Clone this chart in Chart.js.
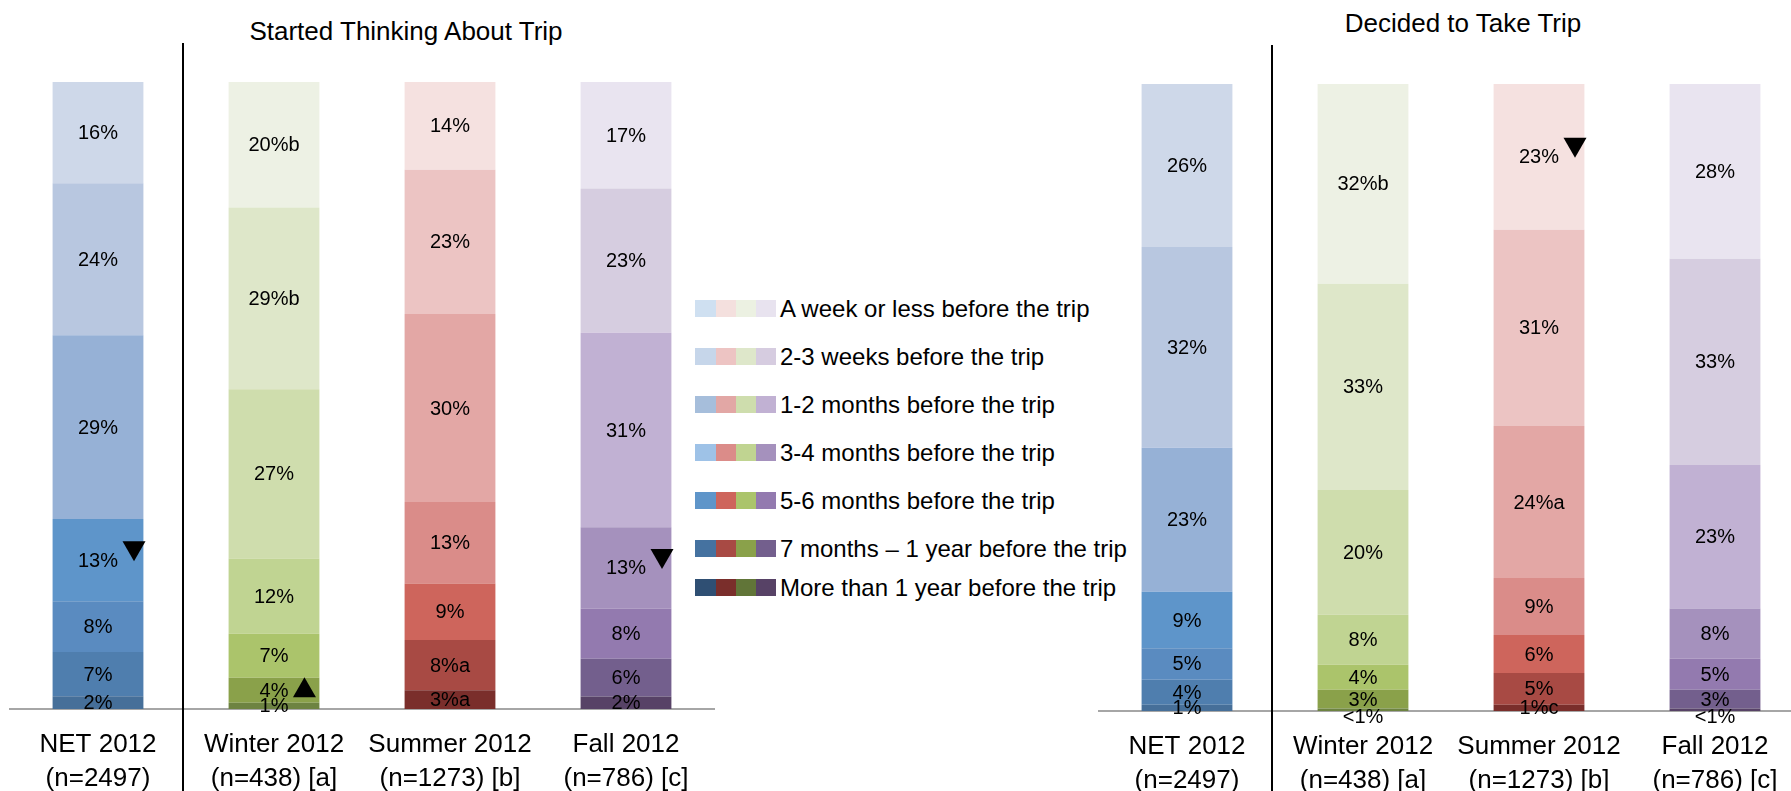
<!DOCTYPE html>
<html>
<head>
<meta charset="utf-8">
<script src="https://cdn.jsdelivr.net/npm/chart.js@4.4.1/dist/chart.umd.min.js"></script>
<style>
  body { margin: 0; width: 1791px; height: 791px; overflow: hidden; position: relative; background: #fff;
         font-family: "Liberation Sans", Arial, sans-serif; color: #000; }
  canvas { position: absolute; }
  #thinkChart { left: 0; top: 0; }
  #decideChart { left: 1089px; top: 2px; }
  .title { position: absolute; width: 420px; text-align: center; font-size: 26px; line-height: 26px; white-space: nowrap; }
  .row { position: absolute; left: 695px; height: 17px; display: flex; align-items: center; white-space: nowrap; }
  .row span.sw { display: inline-block; width: 20px; height: 17px; }
  .row span.sw:first-child { width: 21px; }
  .row span.txt { margin-left: 4px; font-size: 24px; line-height: 17px; }
</style>
</head>
<body>
<div class="title" style="left:196px; top:18px">Started Thinking About Trip</div>
<div class="title" style="left:1253px; top:10px">Decided to Take Trip</div>
<div id="legend"></div>
<canvas id="thinkChart" width="720" height="791"></canvas>
<canvas id="decideChart" width="720" height="791"></canvas>
<script>
const categories = [['NET 2012', '(n=2497)'], ['Winter 2012', '(n=438) [a]'], ['Summer 2012', '(n=1273) [b]'], ['Fall 2012', '(n=786) [c]']];
const timing = ['A week or less before the trip', '2-3 weeks before the trip', '1-2 months before the trip',
  '3-4 months before the trip', '5-6 months before the trip', '7 months \u2013 1 year before the trip',
  'More than 1 year before the trip'];

// started thinking about the trip, % per timing (top of the bar first)
const thinkNet = [16, 24, 29, 13, 8, 7, 2];
const thinkWinter = [20, 29, 27, 12, 7, 4, 1];
const thinkSummer = [14, 23, 30, 13, 9, 8, 3];
const thinkFall = [17, 23, 31, 13, 8, 6, 2];
const thinkWinterSig = ['b', 'b', '', '', '', '', ''];
const thinkSummerSig = ['', '', '', '', '', 'a', 'a'];

// decided to take the trip (0.4 = "<1%")
const decideNet = [26, 32, 23, 9, 5, 4, 1];
const decideWinter = [32, 33, 20, 8, 4, 3, 0.4];
const decideSummer = [23, 31, 24, 9, 6, 5, 1];
const decideFall = [28, 33, 23, 8, 5, 3, 0.4];
const decideWinterSig = ['b', '', '', '', '', '', ''];
const decideSummerSig = ['', '', 'a', '', '', '', 'c'];

const noSig = ['', '', '', '', '', '', ''];

// significant change arrows: bar index, timing index, direction
const thinkArrows = [{ bar: 0, level: 3, dir: 'down' }, { bar: 1, level: 5, dir: 'up' }, { bar: 3, level: 3, dir: 'down' }];
const decideArrows = [{ bar: 2, level: 0, dir: 'down' }];

// one shade ramp per bar: NET blue, winter green, summer red, fall purple
const barShades = [
  ['#CED8E9', '#B8C7E0', '#96B1D6', '#5E95CA', '#5A8BC0', '#4F7EAE', '#466F99'],
  ['#EDF1E4', '#DEE7C9', '#CFDDAD', '#C0D492', '#ABC46B', '#8AA14A', '#6D8341'],
  ['#F5E1E0', '#ECC4C3', '#E3A7A5', '#DA8C89', '#CE655C', '#A84A44', '#7A2E2B'],
  ['#E9E4F0', '#D6CDE0', '#C1B1D3', '#A591BD', '#937AAF', '#735F8D', '#574266']
];
const legendShades = [
  ['#CFE0F1', '#F4E0DE', '#ECF1E2', '#E8E3EF'],
  ['#C6D6EA', '#EDC4C3', '#DEE7CA', '#D6CCE0'],
  ['#A6BEDB', '#E2A7A5', '#CEDDAD', '#C1B1D3'],
  ['#9EC2E7', '#DB8C89', '#C0D491', '#A591BD'],
  ['#5F95C9', '#CE655C', '#ABC46B', '#937AAF'],
  ['#4572A0', '#A84A44', '#8AA14A', '#735F8D'],
  ['#2F4F73', '#7A2E2B', '#617538', '#574266']
];

const FONT = '"Liberation Sans", Arial, sans-serif';

// legend in the middle
const legendRowY = [308, 356, 404, 452, 500, 548, 587];
const legend = document.getElementById('legend');
timing.forEach((t, i) => {
  const row = document.createElement('div');
  row.className = 'row';
  row.style.top = (legendRowY[i] - 8.5) + 'px';
  legendShades[i].forEach(c => {
    const s = document.createElement('span');
    s.className = 'sw';
    s.style.background = c;
    row.appendChild(s);
  });
  const txt = document.createElement('span');
  txt.className = 'txt';
  txt.textContent = t;
  row.appendChild(txt);
  legend.appendChild(row);
});

const decor = {
  id: 'decor',
  afterDatasetsDraw(chart, args, opts) {
    const ctx = chart.ctx;
    ctx.save();
    ctx.font = '20px ' + FONT;
    ctx.fillStyle = '#000';
    ctx.textAlign = 'center';
    ctx.textBaseline = 'middle';
    chart.data.datasets.forEach((ds, di) => {
      chart.getDatasetMeta(di).data.forEach((bar, bi) => {
        let y = (bar.y + bar.base) / 2 + 1;
        if (ds.raw[bi] < 1) y += 7;
        ctx.fillText(ds.valueLabels[bi], bar.x, y);
      });
    });
    opts.arrows.forEach(a => {
      const di = chart.data.datasets.findIndex(d => d.level === a.level);
      const ds = chart.data.datasets[di];
      const bar = chart.getDatasetMeta(di).data[a.bar];
      const w = ctx.measureText(ds.valueLabels[a.bar]).width;
      const cx = bar.x + w / 2 + 16;
      const cy = (bar.y + bar.base) / 2 + (a.dir === 'down' ? -9 : -3);
      ctx.beginPath();
      if (a.dir === 'down') {
        ctx.moveTo(cx - 11.5, cy - 10); ctx.lineTo(cx + 11.5, cy - 10); ctx.lineTo(cx, cy + 10);
      } else {
        ctx.moveTo(cx - 11.5, cy + 10); ctx.lineTo(cx + 11.5, cy + 10); ctx.lineTo(cx, cy - 10);
      }
      ctx.closePath();
      ctx.fill();
    });
    // divider between NET and the seasons
    const x = Math.round(chart.scales.x.getPixelForValue(0.485));
    ctx.strokeStyle = '#000';
    ctx.lineWidth = 2;
    ctx.beginPath();
    ctx.moveTo(x, chart.chartArea.top - 39);
    ctx.lineTo(x, chart.height);
    ctx.stroke();
    ctx.restore();
  }
};

function buildPanel(id, series, sigs, arrows) {
  const totals = series.map(s => s.reduce((a, b) => a + b, 0));
  const datasets = [];
  for (let l = timing.length - 1; l >= 0; l--) {
    const raw = series.map(s => s[l]);
    datasets.push({
      label: timing[l],
      level: l,
      raw: raw,
      valueLabels: raw.map((v, i) => (v < 1 ? '<1' : v) + '%' + sigs[i][l]),
      data: raw.map((v, i) => v / totals[i] * 100),
      backgroundColor: barShades.map(r => r[l]),
      borderWidth: 0,
      barPercentage: 1,
      categoryPercentage: 0.516
    });
  }
  return new Chart(document.getElementById(id), {
    type: 'bar',
    data: { labels: categories, datasets: datasets },
    options: {
      responsive: false,
      animation: false,
      layout: { padding: { left: 10, right: 6, top: 82, bottom: 0 } },
      plugins: {
        legend: { display: false },
        tooltip: { enabled: false },
        decor: { arrows: arrows }
      },
      scales: {
        x: {
          stacked: true,
          grid: { display: false, drawTicks: false },
          border: { display: true, color: '#a6a6a6', width: 2 },
          ticks: { color: '#000', padding: 19, maxRotation: 0, autoSkip: false,
                   font: { family: FONT, size: 26, lineHeight: 1.31 } },
          afterFit(scale) { scale.height = 82; }
        },
        y: { stacked: true, display: false, min: 0, max: 100 }
      }
    },
    plugins: [decor]
  });
}

buildPanel('thinkChart', [thinkNet, thinkWinter, thinkSummer, thinkFall],
  [noSig, thinkWinterSig, thinkSummerSig, noSig], thinkArrows);
buildPanel('decideChart', [decideNet, decideWinter, decideSummer, decideFall],
  [noSig, decideWinterSig, decideSummerSig, noSig], decideArrows);
</script>
</body>
</html>
